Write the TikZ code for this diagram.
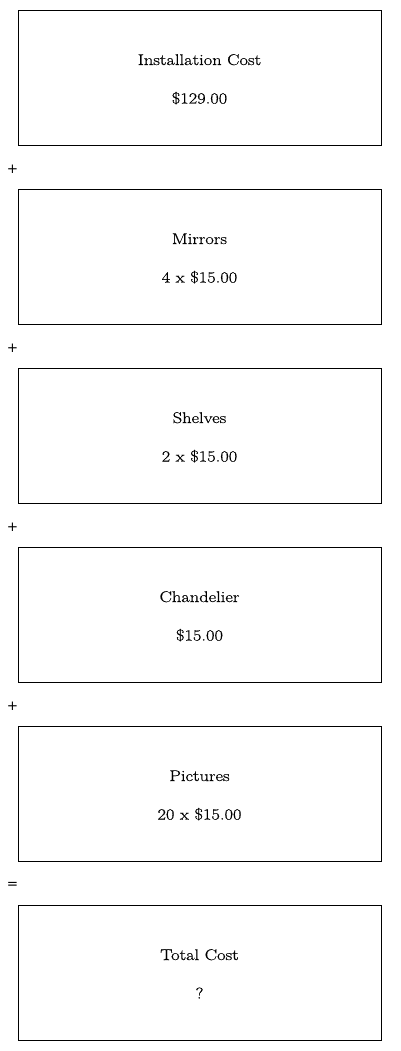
\documentclass[tikz,border=0pt]{standalone}
\usepackage{fontspec}
\setmainfont{Latin Modern Roman}[FakeStretch=1.19, FakeBold=0.6]
\newfontfamily\operfont{DejaVu Sans}
\usetikzlibrary{positioning}
\tikzset{
  costbox/.style={draw, line width=0.8pt, minimum width=363pt, minimum height=135pt,
    outer sep=0pt, inner sep=0pt},
  costtitle/.style={anchor=base, inner sep=0pt, font=\fontsize{15.5}{18}\selectfont},
  oper/.style={font=\operfont\fontsize{13.5}{15}\selectfont, inner sep=0pt}
}
\begin{document}
\begin{tikzpicture}[x=1pt,y=1pt]
\useasboundingbox (0,0) rectangle (400,-1051);
% Cajas
\node[costbox] (install) at (199.5,-77.5) {};
\node[costbox, below=44pt of install] (mirrors) {};
\node[costbox, below=44pt of mirrors] (shelves) {};
\node[costbox, below=44pt of shelves] (chandelier) {};
\node[costbox, below=44pt of chandelier] (pictures) {};
\node[costbox, below=44pt of pictures] (total) {};

% Textos
\node[costtitle] (install-name) at ([yshift=12.5pt]install.center) {Installation Cost};
\node[costtitle] (install-price) at ([yshift=-26pt]install.center) {\$129.00};
\node[costtitle] (mirrors-name) at ([yshift=12.5pt]mirrors.center) {Mirrors};
\node[costtitle] (mirrors-price) at ([yshift=-26pt]mirrors.center) {4 x \$15.00};
\node[costtitle] (shelves-name) at ([yshift=12.5pt]shelves.center) {Shelves};
\node[costtitle] (shelves-price) at ([yshift=-26pt]shelves.center) {2 x \$15.00};
\node[costtitle] (chandelier-name) at ([yshift=12.5pt]chandelier.center) {Chandelier};
\node[costtitle] (chandelier-price) at ([yshift=-26pt]chandelier.center) {\$15.00};
\node[costtitle] (pictures-name) at ([yshift=12.5pt]pictures.center) {Pictures};
\node[costtitle] (pictures-price) at ([yshift=-26pt]pictures.center) {20 x \$15.00};
\node[costtitle] (total-name) at ([yshift=12.5pt]total.center) {Total Cost};
\node[costtitle] (total-price) at ([yshift=-26pt]total.center) {?};

% Signos
\node[oper] (plus1) at (12.5,-169) {+};
\node[oper] (plus2) at (12.5,-348) {+};
\node[oper] (plus3) at (12.5,-527) {+};
\node[oper] (plus4) at (12.5,-706) {+};
\node[oper] (equals) at (12.5,-885) {=};
\end{tikzpicture}
\end{document}
